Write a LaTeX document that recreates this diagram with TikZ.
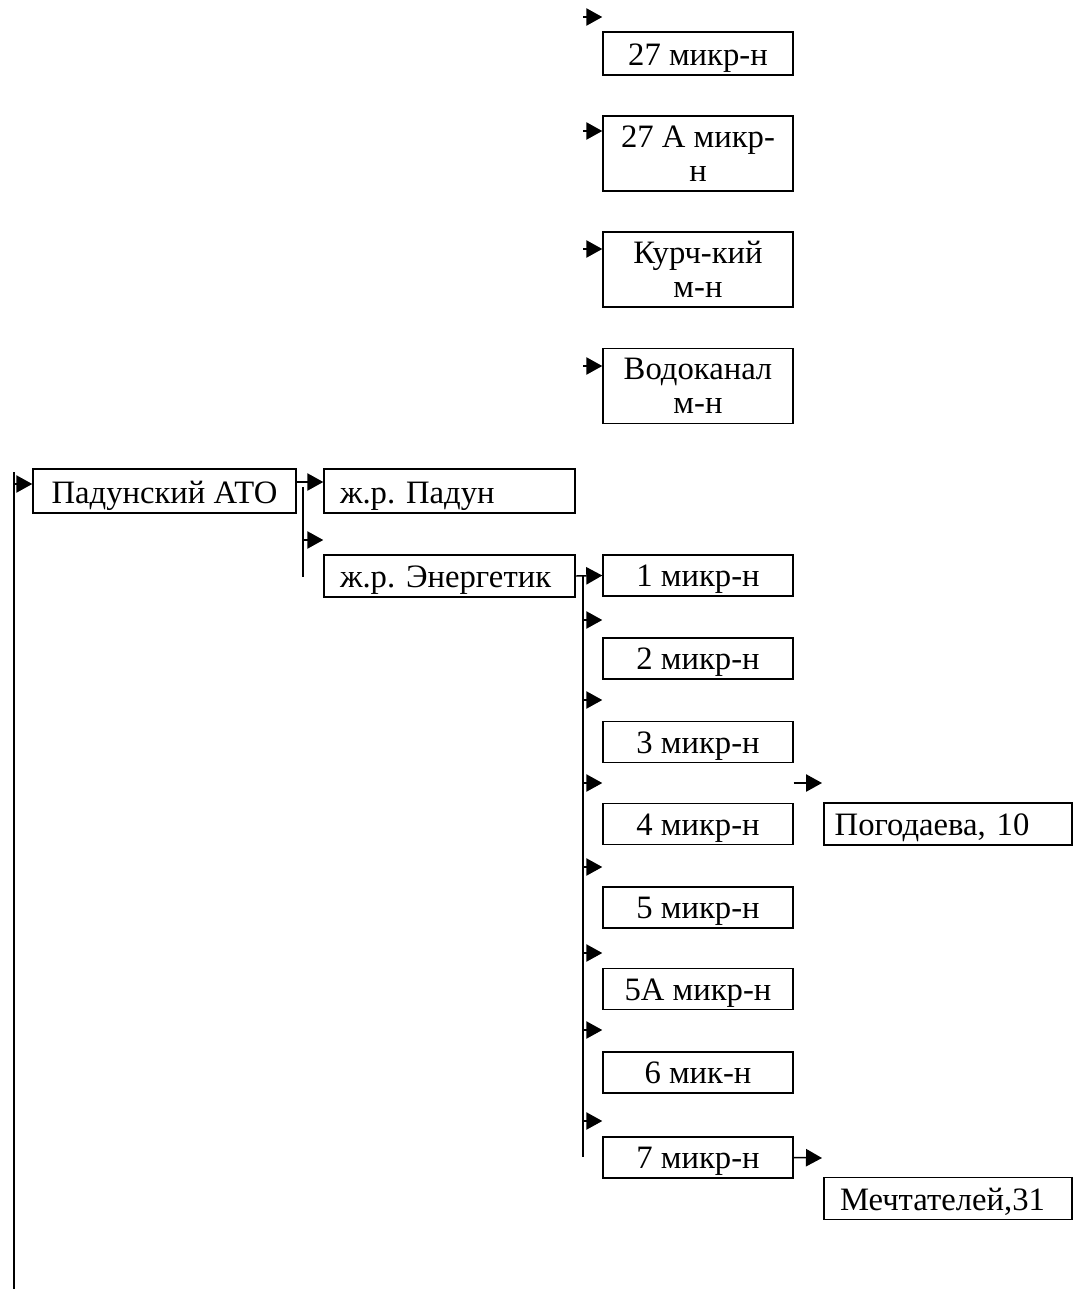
\documentclass[tikz,border=0pt]{standalone}
\usepackage{fontspec}
\setmainfont{Liberation Serif}
\usetikzlibrary{arrows.meta}
\begin{document}
\frenchspacing
\begin{tikzpicture}[x=0.75pt,y=-0.75pt,
  txt/.style={font=\fontsize{24.5}{25}\selectfont},
  box/.style={txt,draw,line width=1.1pt,inner ysep=0pt,inner xsep=0pt,minimum width=142.5pt,
    text height=23.75pt,text depth=7pt,align=center},
  tall/.style={txt,draw,line width=1.1pt,inner sep=0pt,minimum width=142.5pt,minimum height=56.25pt,
    align=center,font=\fontsize{24.5}{25.5}\selectfont},
  lbox/.style={txt,draw,line width=1.1pt,inner ysep=0pt,text depth=7pt,align=left},
  arr/.style={line width=1.1pt,-{Triangle[length=12pt,width=13pt]}},
  ln/.style={line width=1.1pt}]
\path[use as bounding box] (0,0) rectangle (1084,1289);
% top column
\node[box,text height=25.25pt] (b27) at (698,53.5) {27 микр-н};
\node[tall] (b27a) at (698,153.5) {27 А микр-\\н};
\node[tall] (bkurch) at (698,269.5) {Курч-кий\\м-н};
\node[tall] (bvodo) at (698,386) {Водоканал\\м-н};
\coordinate (t1) at (583,17);
\coordinate (t2) at (583,131);
\coordinate (t3) at (583,249);
\coordinate (t4) at (583,366);
\draw[arr] (t1) -- (b27.west |- t1);
\draw[arr] (t2) -- (b27a.west |- t2);
\draw[arr] (t3) -- (bkurch.west |- t3);
\draw[arr] (t4) -- (bvodo.west |- t4);
% left trunk
\coordinate (L0) at (14,472);
\coordinate (L1) at (14,1289);
\coordinate (La) at (14,484);
\draw[ln] (L0) -- (L1);
\node[box,minimum width=197.25pt,text height=26pt] (bpad) at (164.5,491) {Падунский АТО};
\draw[arr] (La) -- (bpad.west |- La);
% second level
\node[lbox,inner xsep=12pt,text width=164.25pt,text height=26pt] (bpadun) at (449.5,491) {ж.р. Падун};
\node[lbox,inner xsep=12pt,text width=164.25pt,text height=24.5pt] (benerg) at (449.5,576) {ж.р. Энергетик};
\coordinate (p0) at (296,482);
\draw[arr] (bpad.east |- p0) -- (bpadun.west |- p0);
\coordinate (m0) at (303,487);
\coordinate (m1) at (303,577);
\coordinate (ma) at (303,540);
\draw[ln] (m0) -- (m1);
\draw[arr] (ma) -- (benerg.west |- ma);
% third level
\node[box] (b1) at (698,575.5) {1 микр-н};
\node[box] (b2) at (698,658.5) {2 микр-н};
\node[box] (b3) at (698,742) {3 микр-н};
\node[box] (b4) at (698,824) {4 микр-н};
\node[box] (b5) at (698,907.5) {5 микр-н};
\node[box] (b5a) at (698,989) {5А микр-н};
\node[box] (b6) at (698,1072.5) {6 мик-н};
\node[box] (b7) at (698,1157.5) {7 микр-н};
\draw[arr] (benerg.east) -- (b1.west);
\coordinate (e0) at (583,576);
\coordinate (e1) at (583,1157);
\draw[ln] (e0) -- (e1);
\foreach \y/\n in {620/b2,700/b3,783/b4,867/b5,953/b5a,1030/b6,1121/b7}{
  \coordinate (ea) at (583,\y);
  \draw[arr] (ea) -- (\n.west |- ea);
}
% fourth level
\node[lbox,inner xsep=8pt,text width=170pt,text height=24.5pt] (bpog) at (948,824) {Погодаева, 10};
\node[lbox,inner xsep=12pt,text width=162pt,text height=24.5pt] (bmech) at (948,1198.5) {Мечтателей,31};
\coordinate (f4) at (822,783);
\draw[arr] (b4.east |- f4) -- (f4);
\coordinate (f7) at (822,1158);
\draw[arr] (b7.east) -- (f7);
\end{tikzpicture}
\end{document}
